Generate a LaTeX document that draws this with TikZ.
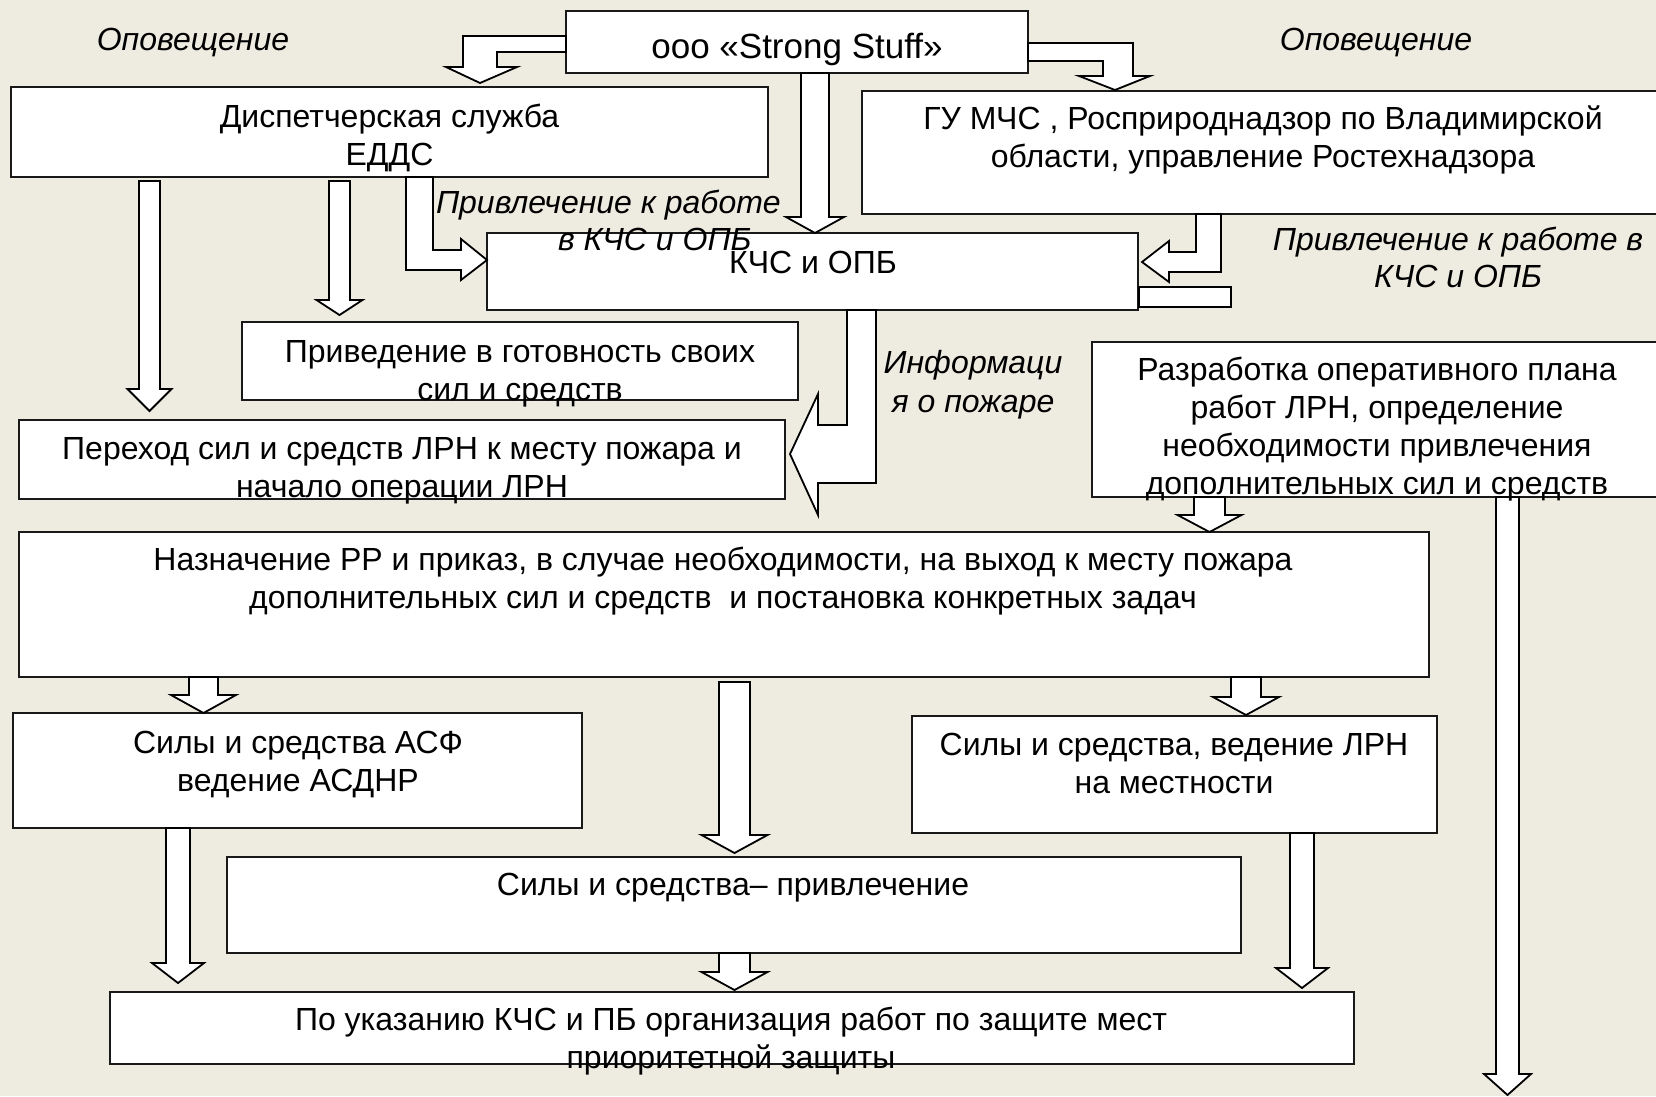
\documentclass[tikz,border=0pt]{standalone}
\usepackage{fontspec}
\setmainfont{Liberation Sans}
\usetikzlibrary{calc}
\definecolor{bgc}{RGB}{238,236,225}
\definecolor{boxc}{RGB}{25,25,25}
\newcommand\strt{\rule{0pt}{28pt}}
% vertical block arrow: #1 from anchor, #2 to anchor, #3 x, #4 start offset, #5 tip offset, #6 shaft half, #7 head half, #8 head length
\newcommand\varrow[8]{%
  \draw[blk] let \p1=(#1), \p2=(#2) in
    (#3pt-#6pt,\y1-#4pt) -- (#3pt+#6pt,\y1-#4pt) -- (#3pt+#6pt,\y2+#5pt+#8pt)
    -- (#3pt+#7pt,\y2+#5pt+#8pt) -- (#3pt,\y2+#5pt) -- (#3pt-#7pt,\y2+#5pt+#8pt)
    -- (#3pt-#6pt,\y2+#5pt+#8pt) -- cycle;}
\begin{document}
\begin{tikzpicture}[x=1pt,y=-1pt,
  box/.style={draw=boxc, fill=white, line width=2pt, rectangle, inner sep=0pt, outer sep=0pt, anchor=north west},
  txt/.style={font=\fontsize{32}{38}\selectfont, align=center, inner sep=0pt, outer sep=0pt, anchor=north, text=black},
  lbl/.style={font=\fontsize{32}{37.5}\selectfont\itshape, align=center, inner sep=0pt, outer sep=0pt, anchor=north, text=black},
  blk/.style={draw=black, fill=white, line width=1.8pt, line join=miter}]
\path[use as bounding box] (0,0) rectangle (1656,1096);
\clip (0,0) rectangle (1656,1096);
\fill[bgc] (0,0) rectangle (1656,1096);

% boxes
\node[box, minimum width=462pt, minimum height=62pt] (top) at (566,11) {};
\node[box, minimum width=757pt, minimum height=90pt] (eddc) at (11,87) {};
\node[box, minimum width=820pt, minimum height=123pt] (gu) at (862,91) {};
\node[box, minimum width=651pt, minimum height=77pt] (kchs) at (487,233) {};
\node[box, minimum width=556pt, minimum height=78pt] (prived) at (242,322) {};
\node[box, minimum width=766pt, minimum height=79pt] (perehod) at (19,420) {};
\node[box, minimum width=590pt, minimum height=155pt] (razrab) at (1092,342) {};
\node[box, minimum width=1410pt, minimum height=145pt] (naznach) at (19,532) {};
\node[box, minimum width=569pt, minimum height=115pt] (asf) at (13,713) {};
\node[box, minimum width=525pt, minimum height=117pt] (lrn) at (912,716) {};
\node[box, minimum width=1014pt, minimum height=96pt] (privl) at (227,857) {};
\node[box, minimum width=1244pt, minimum height=72pt] (poukaz) at (110,992) {};
\coordinate (endR) at (1507.5,1095);

% bent block arrows
\draw[blk] (566,36) -- (463,36) -- (463,67) -- (446,67) -- (480,83) -- (517,67) -- (497,67) -- (497,52) -- (566,52) -- cycle;
\draw[blk] (1028,43) -- (1133,43) -- (1133,76) -- (1150,76) -- (1115,90) -- (1079,76) -- (1103,76) -- (1103,61) -- (1028,61) -- cycle;
\draw[blk] (406,177) -- (406,270) -- (461,270) -- (461,280) -- (487,260) -- (461,239) -- (461,250) -- (433,250) -- (433,177) -- cycle;
\draw[blk] (1221,214) -- (1221,272) -- (1169,272) -- (1169,282) -- (1142,262) -- (1169,241) -- (1169,252) -- (1196,252) -- (1196,214) -- cycle;
\draw[blk] (1139,287) rectangle (1231,307);
\draw[blk] (847,310) -- (847,425) -- (818,425) -- (818,394) -- (790,454) -- (818,515) -- (818,483) -- (876,483) -- (876,310) -- cycle;

% straight block arrows
\varrow{eddc.south}{perehod.north}{149.5}{4}{9}{10.5}{22}{22}
\varrow{eddc.south}{prived.north}{339.5}{4}{7}{10.5}{23}{15}
\varrow{top.south}{kchs.north}{815}{0}{0}{14}{29}{16}
\varrow{razrab.south}{naznach.north}{1209.5}{0}{0}{15.5}{32}{17}
\varrow{razrab.south}{endR}{1507.5}{0}{0}{11.5}{23.5}{21}
\varrow{naznach.south}{asf.north}{203.5}{0}{0}{14.5}{32.5}{18}
\varrow{naznach.south}{privl.north}{734.5}{5}{4}{15.5}{33}{18}
\varrow{privl.south}{poukaz.north}{734.5}{0}{2}{15.5}{33}{18}
\varrow{asf.south}{poukaz.north}{178}{0}{9}{12}{26}{20}
\varrow{naznach.south}{lrn.north}{1246}{0}{1}{15}{33}{18}
\varrow{lrn.south}{poukaz.north}{1302}{0}{4}{12}{26}{20}

% box texts
\node[txt, anchor=base, font=\fontsize{35}{40}\selectfont] (ttop) at (797,58) {ооо «Strong Stuff»};
\node[txt] (teddc) at (389.5,99) {\strt Диспетчерская служба\\ЕДДС};
\node[txt] (tgu) at (1263,101) {\strt ГУ МЧС , Росприроднадзор по Владимирской\\области, управление Ростехнадзора};
\node[txt] (tkchs) at (813,245) {\strt КЧС и ОПБ};
\node[txt] (tprived) at (520,334) {\strt Приведение в готовность своих\\сил и средств};
\node[txt] (tperehod) at (402,431) {\strt Переход сил и средств ЛРН к месту пожара и\\начало операции ЛРН};
\node[txt] (trazrab) at (1377,352) {\strt Разработка оперативного плана\\работ ЛРН, определение\\необходимости привлечения\\дополнительных сил и средств};
\node[txt] (tnaznach) at (723,542) {\strt Назначение РР и приказ, в случае необходимости, на выход к месту пожара\\дополнительных сил и средств\ \ и постановка конкретных задач};
\node[txt] (tasf) at (298,725) {\strt Силы и средства АСФ\\ведение АСДНР};
\node[txt] (tlrn) at (1174,727) {\strt Силы и средства, ведение ЛРН\\на местности};
\node[txt] (tprivl) at (733,867) {\strt Силы и средства– привлечение};
\node[txt] (tpoukaz) at (731,1002) {\strt По указанию КЧС и ПБ организация работ по защите мест\\приоритетной защиты};

% labels
\node[lbl] (op1) at (193,22) {\strt Оповещение};
\node[lbl] (op2) at (1376,22) {\strt Оповещение};
\node[lbl, anchor=north west, align=left] (priv1) at (436,185) {\strt Привлечение к работе\\\hspace*{122pt}в КЧС и ОПБ};
\node[lbl] (priv2) at (1458,222) {\strt Привлечение к работе в\\КЧС и ОПБ};
\node[lbl, font=\fontsize{32}{39}\selectfont\itshape] (info) at (973,345) {\strt Информаци\\я о пожаре};
\end{tikzpicture}
\end{document}
